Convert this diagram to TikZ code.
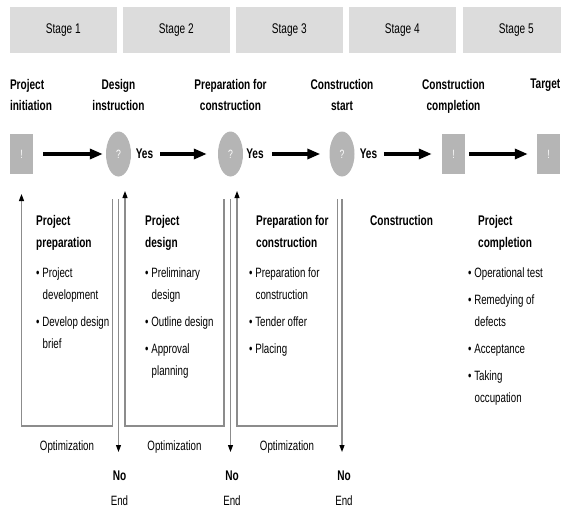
\documentclass[tikz,border=0pt]{standalone}
\usepackage{fontspec}
\setmainfont{Liberation Sans}[FakeStretch=0.72]
\usetikzlibrary{arrows.meta,shapes.geometric}
\definecolor{stagegray}{HTML}{DCDCDC}
\definecolor{symgray}{HTML}{B5B5B5}
\definecolor{linegray}{HTML}{8C8C8C}
\newcommand{\bul}{\textbullet\ }
\newcommand{\ind}{\hspace*{6.5pt}}
\begin{document}
\begin{tikzpicture}[x=1pt,y=-1pt,
  stagebox/.style={fill=stagegray, draw=none, minimum height=46pt, inner sep=0pt, font=\fontsize{14}{16}\selectfont},
  milestone/.style={font=\bfseries\fontsize{14}{21}\selectfont, align=center, inner sep=0pt, anchor=north},
  symbox/.style={fill=symgray, draw=none, minimum width=23pt, minimum height=40pt, inner sep=0pt, text=white, font=\fontsize{12}{14}\selectfont},
  symcirc/.style={ellipse, fill=symgray, draw=none, minimum width=25pt, minimum height=45pt, inner sep=0pt, text=white, font=\fontsize{12}{14}\selectfont},
  yes/.style={font=\bfseries\fontsize{14}{16}\selectfont, inner sep=0pt},
  bigarrow/.style={line width=4pt, -{Triangle[length=13pt,width=10pt]}},
  garrow/.style={draw=linegray, line width=1.1pt, -{Triangle[length=7pt,width=5pt,color=black]}},
  head/.style={font=\bfseries\fontsize{14}{22}\selectfont, align=left, inner sep=0pt, anchor=north west},
  bullets/.style={font=\fontsize{13.5}{22}\selectfont, align=left, inner sep=0pt, anchor=north west},
  plain/.style={font=\fontsize{13.5}{16}\selectfont, inner sep=0pt, anchor=base},
  bplain/.style={font=\bfseries\fontsize{14}{16}\selectfont, inner sep=0pt, anchor=base}
]
\useasboundingbox (0,0) rectangle (561,508);

% stage header
\node[stagebox, minimum width=106.5pt] (st1) at (63.25,30) {Stage 1};
\node[stagebox, minimum width=106.5pt] (st2) at (176.25,30) {Stage 2};
\node[stagebox, minimum width=106.5pt] (st3) at (289.25,30) {Stage 3};
\node[stagebox, minimum width=106.5pt] (st4) at (402.25,30) {Stage 4};
\fill[stagegray] (463,7) rectangle (561,53);
\node[stagebox, minimum width=106.5pt] (st5) at (516.25,30) {Stage 5};

% symbol row
\node[symbox] (b0) at (21.5,154) {!};
\node[symcirc] (c1) at (118.5,154) {?};
\node[yes] (y1) at (144.5,154) {Yes};
\node[symcirc] (c2) at (230.5,154) {?};
\node[yes] (y2) at (255,154) {Yes};
\node[symcirc] (c3) at (342,154) {?};
\node[yes] (y3) at (368.5,154) {Yes};
\node[symbox] (b1) at (453.5,154) {!};
\node[symbox] (b2) at (548.5,154) {!};

% milestones
\node[milestone, align=left, anchor=north west] (m0) at (b0.west |- 0,79) {Project\\initiation};
\node[milestone] (m1) at (c1.center |- 0,79) {Design\\instruction};
\node[milestone] (m2) at (c2.center |- 0,79) {Preparation for\\construction};
\node[milestone] (m3) at (c3.center |- 0,79) {Construction\\start};
\node[milestone] (m4) at (b1.center |- 0,79) {Construction\\completion};
\node[milestone, anchor=north east] (m5) at (560.5,79) {Target};

\draw[bigarrow] ([xshift=10pt]b0.east) -- ([xshift=-3pt]c1.west);
\draw[bigarrow] ([xshift=7pt]y1.east) -- ([xshift=-11pt]c2.west);
\draw[bigarrow] ([xshift=8pt]y2.east) -- ([xshift=-9pt]c3.west);
\draw[bigarrow] ([xshift=6.5pt]y3.east) -- ([xshift=-10pt]b1.west);
\draw[bigarrow] ([xshift=4pt]b1.east) -- ([xshift=-9pt]b2.west);

% bottom labels
\node[plain] (o1) at (67,450) {Optimization};
\node[plain] (o2) at (174.5,450) {Optimization};
\node[plain] (o3) at (287,450) {Optimization};
\node[bplain] (n1) at (119.5,480) {No};
\node[bplain] (n2) at (232,480) {No};
\node[bplain] (n3) at (344,480) {No};
\node[plain] (e1) at (119.5,505.5) {End};
\node[plain] (e2) at (232,505.5) {End};
\node[plain] (e3) at (344,505.5) {End};

% optimization loops
\draw[garrow] (112.5,199) -- (112.5,426) -- (b0.south |- 0,426) -- (b0.south |- 0,194);
\draw[garrow] (224,199) -- (224,426) -- (125,426) -- (125,191);
\draw[garrow] (337.5,199) -- (337.5,426) -- (237,426) -- (237,191);

% exits
\draw[garrow] (c1.south |- 0,199) -- (c1.south |- 0,452);
\draw[garrow] (c2.south |- 0,199) -- (c2.south |- 0,452);
\draw[garrow] (c3.south |- 0,199) -- (c3.south |- 0,452);

% phase contents
\node[head] (h1) at (36,215) {Project\\preparation};
\node[bullets] (l1) at (36,268) {\bul Project\\\ind development\\[5pt]\bul Develop design\\\ind brief};
\node[head] (h2) at (145,215) {Project\\design};
\node[bullets] (l2) at (145,268) {\bul Preliminary\\\ind design\\[5pt]\bul Outline design\\[5pt]\bul Approval\\\ind planning};
\node[head] (h3) at (256,215) {Preparation for\\construction};
\node[bullets] (l3) at (249,268) {\bul Preparation for\\\ind construction\\[5pt]\bul Tender offer\\[5pt]\bul Placing};
\node[head] (h4) at (370,215) {Construction};
\node[head] (h5) at (478,215) {Project\\completion};
\node[bullets] (l5) at (468,268) {\bul Operational test\\[5pt]\bul Remedying of\\\ind defects\\[5pt]\bul Acceptance\\[5pt]\bul Taking\\\ind occupation};
\end{tikzpicture}
\end{document}
